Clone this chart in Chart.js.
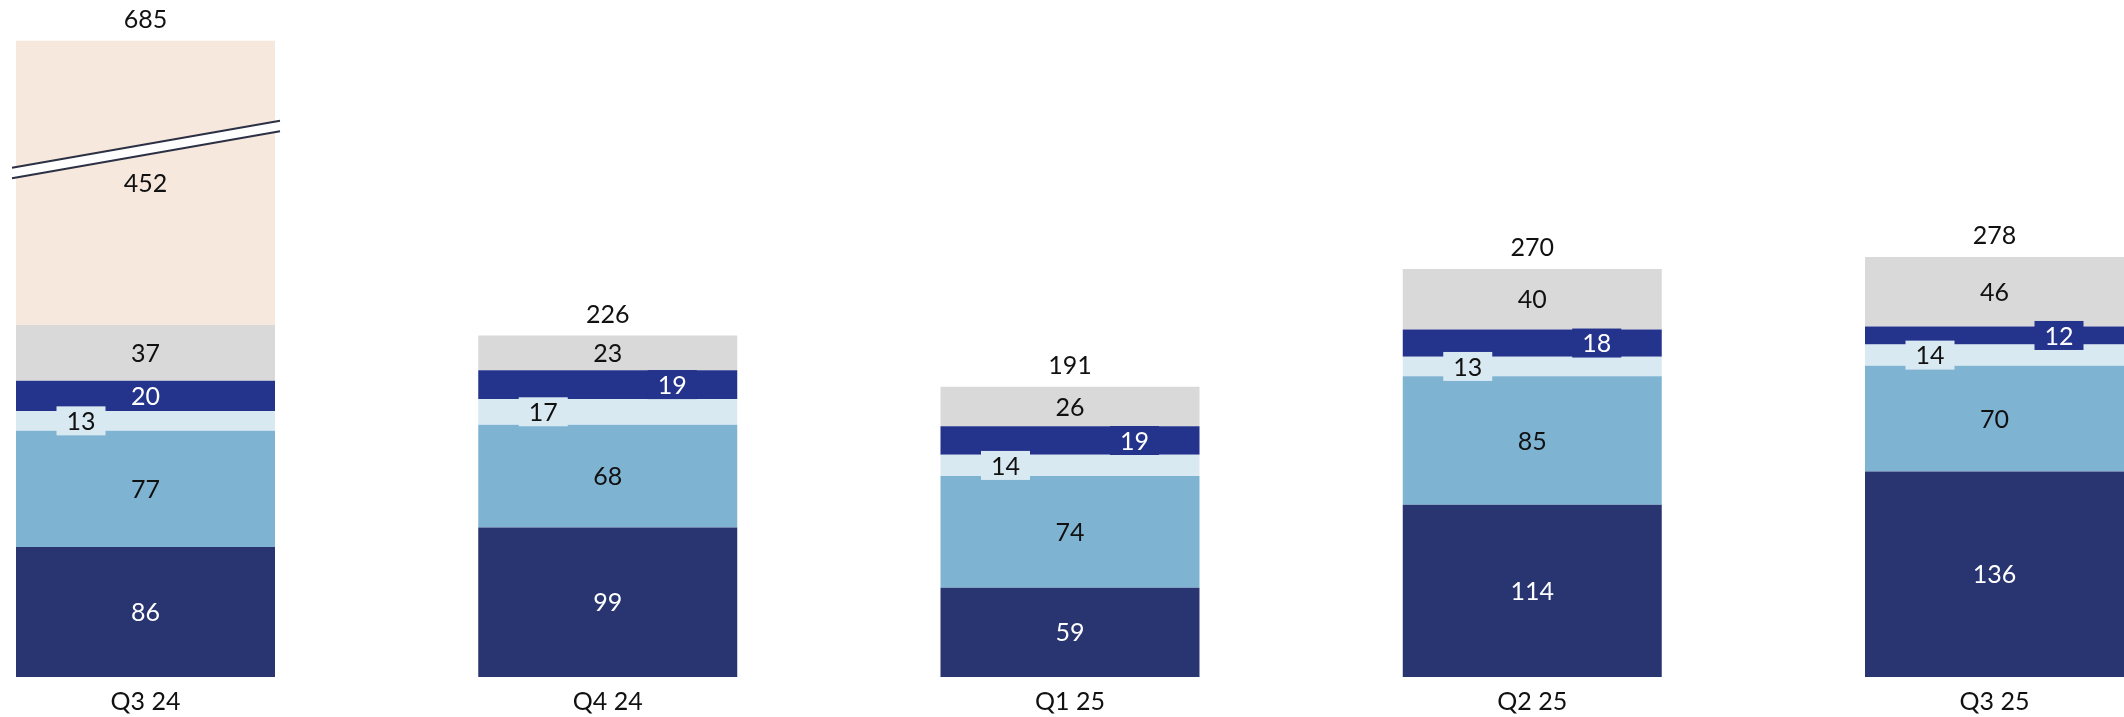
<!DOCTYPE html>
<html>
<head>
<meta charset="utf-8">
<title>Quarterly breakdown</title>
<script src="https://cdn.jsdelivr.net/npm/chart.js@4.4.1/dist/chart.umd.min.js"></script>
<style>
  html, body { margin: 0; padding: 0; background: #fff; overflow: hidden; }
</style>
</head>
<body>
<canvas id="stack_chart" width="2124" height="717"></canvas>
<script>
const quarters = ['Q3 24', 'Q4 24', 'Q1 25', 'Q2 25', 'Q3 25'];
const navy_values = [86, 99, 59, 114, 136];
const lightblue_values = [77, 68, 74, 85, 70];
const paleblue_values = [13, 17, 14, 13, 14];
const blue_values = [20, 19, 19, 18, 12];
const gray_values = [37, 23, 26, 40, 46];
const peach_values = [452, null, null, null, null];
const totals = [685, 226, 191, 270, 278];

// values above BREAK_FROM get squeezed so the tall Q3 24 bar fits
const BREAK_FROM = 349;
const BREAK_RATIO = 0.2145;

const FONT = 'Lato, "Open Sans", sans-serif';
const FONT_SIZE = 25;

class BrokenLinearScale extends Chart.LinearScale {
  squash(v) {
    return v > BREAK_FROM ? BREAK_FROM + (v - BREAK_FROM) * BREAK_RATIO : v;
  }
  getPixelForValue(v) {
    return super.getPixelForValue(v === null ? null : this.squash(v));
  }
  getValueForPixel(p) {
    const s = super.getValueForPixel(p);
    return s > BREAK_FROM ? BREAK_FROM + (s - BREAK_FROM) / BREAK_RATIO : s;
  }
}
BrokenLinearScale.id = 'brokenLinear';
Chart.register(BrokenLinearScale);

// segment labels, side tabs for thin segments, totals and the axis break
const labelPlugin = {
  id: 'stackLabels',
  afterDatasetsDraw(chart) {
    const ctx = chart.ctx;
    const yScale = chart.scales.y;
    const tops = [];

    ctx.save();

    // break marks across the squeezed bar
    chart.data.datasets.forEach((ds, i) => {
      if (!ds.broken) return;
      chart.getDatasetMeta(i).data.forEach((bar, j) => {
        if (ds.data[j] === null) return;
        const cy = yScale.getPixelForValue(BREAK_FROM);
        const x0 = bar.x - bar.width / 2 - 4;
        const x1 = bar.x + bar.width / 2 + 5;
        const slope = -0.1754;
        const gap = 5.2;
        const yAt = (x, off) => cy + (x - bar.x) * slope + off;
        ctx.beginPath();
        ctx.moveTo(x0, yAt(x0, -gap));
        ctx.lineTo(x1, yAt(x1, -gap));
        ctx.lineTo(x1, yAt(x1, gap));
        ctx.lineTo(x0, yAt(x0, gap));
        ctx.closePath();
        ctx.fillStyle = '#ffffff';
        ctx.fill();
        ctx.strokeStyle = '#2b3045';
        ctx.lineWidth = 2;
        ctx.beginPath();
        ctx.moveTo(x0, yAt(x0, -gap));
        ctx.lineTo(x1, yAt(x1, -gap));
        ctx.moveTo(x0, yAt(x0, gap));
        ctx.lineTo(x1, yAt(x1, gap));
        ctx.stroke();
      });
    });

    ctx.font = FONT_SIZE + 'px ' + FONT;
    ctx.textAlign = 'center';
    ctx.textBaseline = 'middle';

    chart.data.datasets.forEach((ds, i) => {
      chart.getDatasetMeta(i).data.forEach((bar, j) => {
        const v = ds.data[j];
        if (v === null) return;
        const top = Math.min(bar.y, bar.base);
        const h = Math.abs(bar.base - bar.y);
        tops[j] = tops[j] === undefined ? top : Math.min(tops[j], top);
        const cy = top + h / 2;
        let cx = bar.x;
        if (h < 29.5) {
          // too thin for the number: put it in a small tab to one side
          cx = bar.x + ds.tabSide * 64.5;
          ctx.fillStyle = ds.backgroundColor;
          ctx.fillRect(cx - 24.5, cy - 14.5, 49, 29);
        }
        ctx.fillStyle = ds.labelColor;
        ctx.fillText(String(v), cx, cy + 1);
      });
    });

    ctx.fillStyle = '#111111';
    const meta = chart.getDatasetMeta(0);
    totals.forEach((t, j) => {
      ctx.fillText(String(t), meta.data[j].x, tops[j] - 21);
    });

    ctx.restore();
  }
};

new Chart(document.getElementById('stack_chart'), {
  type: 'bar',
  data: {
    labels: quarters,
    datasets: [
      { data: navy_values, backgroundColor: '#283570', labelColor: '#ffffff', tabSide: 1 },
      { data: lightblue_values, backgroundColor: '#7eb3d2', labelColor: '#111111', tabSide: 1 },
      { data: paleblue_values, backgroundColor: '#d8e9f2', labelColor: '#111111', tabSide: -1 },
      { data: blue_values, backgroundColor: '#24338c', labelColor: '#ffffff', tabSide: 1 },
      { data: gray_values, backgroundColor: '#d9d9d9', labelColor: '#111111', tabSide: 1 },
      { data: peach_values, backgroundColor: '#f6e8dc', labelColor: '#111111', tabSide: 1, broken: true }
    ]
  },
  options: {
    responsive: false,
    animation: false,
    events: [],
    clip: false,
    categoryPercentage: 1,
    barPercentage: 0.5603,
    layout: { padding: { left: 145.5, right: 129.5, top: 0, bottom: 0 } },
    plugins: {
      legend: { display: false },
      tooltip: { enabled: false }
    },
    scales: {
      x: {
        stacked: true,
        offset: false,
        grid: { display: false, drawTicks: false },
        border: { display: false },
        afterFit(axis) { axis.height = 40; },
        ticks: {
          autoSkip: false,
          maxRotation: 0,
          padding: 10,
          color: '#111111',
          font: { family: FONT, size: FONT_SIZE }
        }
      },
      y: {
        type: 'brokenLinear',
        stacked: true,
        display: false,
        min: 0,
        max: 448
      }
    }
  },
  plugins: [labelPlugin]
});
</script>
</body>
</html>
